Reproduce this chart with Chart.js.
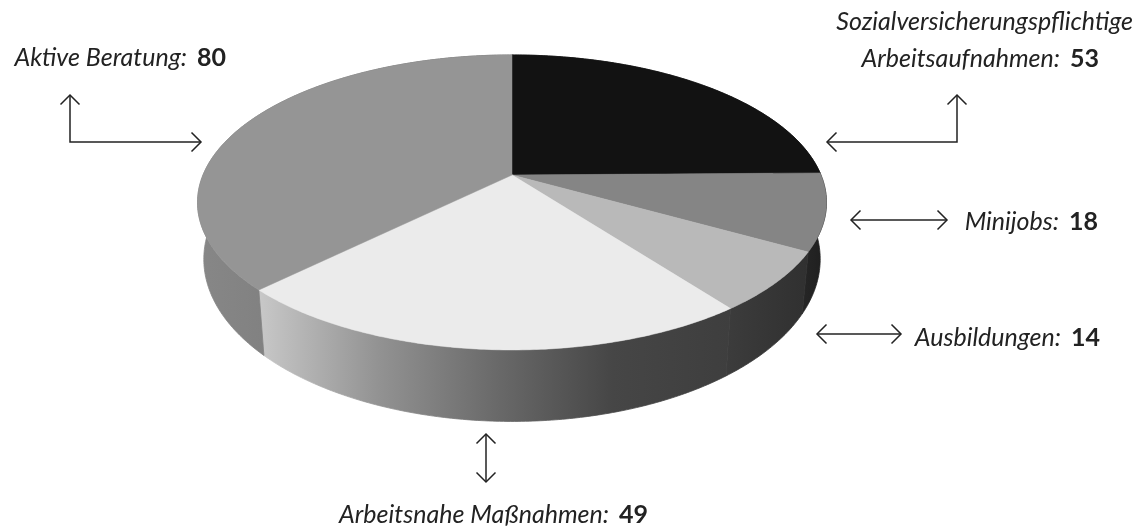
<!DOCTYPE html>
<html>
<head>
<meta charset="utf-8">
<style>
  html, body { margin: 0; padding: 0; background: #fff; }
  canvas { display: block; }
</style>
<script src="https://cdn.jsdelivr.net/npm/chart.js@4"></script>
</head>
<body>
<canvas id="pie" width="1141" height="526"></canvas>
<script>
const categories = ['Sozialversicherungspflichtige Arbeitsaufnahmen', 'Minijobs', 'Ausbildungen', 'Arbeitsnahe Maßnahmen', 'Aktive Beratung'];
const values = [53, 18, 14, 49, 80];
const topColors = ['#121212', '#858585', '#b9b9b9', '#ebebeb', '#959595'];
const wallColors = [
  ['#1c1c1c', '#1c1c1c'],
  ['#1e1e1e', '#262626'],
  ['#303030', '#3c3c3c'],
  ['#3e3e3e', '#464646', '#6a6a6a', '#939393', '#c8c8c8'],
  ['#6c6c6c', '#878787']
];

// the printed pie is a perspective view, so the top face is projected by hand
const view = { cx: 512, cy: 175, c: 309, a: 142.4, beta: 0.186 };
const base = { dy: 54, sx: 0.98, sy: 1.1 };
const nameFont = 'italic 400 25px Lato';
const valueFont = 'bold 25px Lato';

function project(angle) {
  const th = angle + Math.PI / 2;
  const X = Math.sin(th), Y = -Math.cos(th);
  const d = 1 - view.beta * Y;
  return { x: view.c * X / d, y: view.a * Y / d };
}

function sample(start, end) {
  const n = Math.max(2, Math.ceil((end - start) / 0.01));
  const pts = [];
  for (let i = 0; i <= n; i++) pts.push(project(start + (end - start) * i / n));
  return pts;
}

function drawWall(ctx, arc, i) {
  const pts = sample(arc.startAngle, arc.endAngle);
  const bottom = pts.map(p => ({ x: view.cx + p.x * base.sx, y: view.cy + base.dy + p.y * base.sy }));
  const top = pts.map(p => ({ x: view.cx + p.x, y: view.cy + p.y }));
  const xs = top.concat(bottom).map(p => p.x);
  const g = ctx.createLinearGradient(Math.max(...xs), 0, Math.min(...xs), 0);
  wallColors[i].forEach((c, k) => g.addColorStop(k / (wallColors[i].length - 1), c));
  ctx.beginPath();
  top.forEach((p, k) => k ? ctx.lineTo(p.x, p.y) : ctx.moveTo(p.x, p.y));
  bottom.reverse().forEach(p => ctx.lineTo(p.x, p.y));
  ctx.closePath();
  ctx.fillStyle = g;
  ctx.strokeStyle = g;
  ctx.lineWidth = 0.8;
  ctx.fill();
  ctx.stroke();
}

function drawTop(ctx, arc) {
  ctx.beginPath();
  ctx.moveTo(view.cx, view.cy);
  sample(arc.startAngle, arc.endAngle).forEach(p => ctx.lineTo(view.cx + p.x, view.cy + p.y));
  ctx.closePath();
  ctx.fillStyle = arc.options.backgroundColor;
  ctx.strokeStyle = arc.options.backgroundColor;
  ctx.lineWidth = 0.5;
  ctx.fill();
  ctx.stroke();
}

function head(ctx, x, y, dx, dy) {
  const s = 9.5;
  ctx.beginPath();
  ctx.moveTo(x - dx * s + dy * s, y - dy * s + dx * s);
  ctx.lineTo(x, y);
  ctx.lineTo(x - dx * s - dy * s, y - dy * s - dx * s);
  ctx.stroke();
}

function arrow(ctx, pts) {
  ctx.beginPath();
  pts.forEach((p, k) => k ? ctx.lineTo(p[0], p[1]) : ctx.moveTo(p[0], p[1]));
  ctx.stroke();
  const n = pts.length;
  const unit = (a, b) => {
    const l = Math.hypot(b[0] - a[0], b[1] - a[1]);
    return [(b[0] - a[0]) / l, (b[1] - a[1]) / l];
  };
  const u = unit(pts[n - 2], pts[n - 1]);
  head(ctx, pts[n - 1][0], pts[n - 1][1], u[0], u[1]);
  const v = unit(pts[1], pts[0]);
  head(ctx, pts[0][0], pts[0][1], v[0], v[1]);
}

// label: italic name followed by the bold number, right edge at x
function label(ctx, name, value, x, y) {
  ctx.textAlign = 'left';
  ctx.textBaseline = 'alphabetic';
  ctx.fillStyle = '#222';
  ctx.font = valueFont;
  const w = ctx.measureText(String(value)).width;
  ctx.fillText(String(value), x - w, y);
  ctx.font = nameFont;
  const t = name + ':';
  ctx.fillText(t, x - w - 10 - ctx.measureText(t).width, y);
}

const pie3d = {
  id: 'pie3d',
  beforeDatasetsDraw(chart) {
    const ctx = chart.ctx;
    const arcs = chart.getDatasetMeta(0).data;
    ctx.save();
    arcs.forEach((arc, i) => drawWall(ctx, arc, i));
    arcs.forEach(arc => drawTop(ctx, arc));
    ctx.restore();
    return false;
  },
  afterDraw(chart) {
    const ctx = chart.ctx;
    ctx.save();
    ctx.strokeStyle = '#222';
    ctx.lineWidth = 1.5;
    arrow(ctx, [[827, 142], [957, 142], [957, 95]]);
    arrow(ctx, [[851, 220], [947, 220]]);
    arrow(ctx, [[817, 334], [901, 334]]);
    arrow(ctx, [[486, 434], [486, 482]]);
    arrow(ctx, [[70, 95], [70, 142], [201, 142]]);

    ctx.font = nameFont;
    ctx.fillStyle = '#222';
    ctx.textAlign = 'right';
    ctx.fillText('Sozialversicherungspflichtige', 1133, 30);
    label(ctx, 'Arbeitsaufnahmen', values[0], 1099, 67);
    label(ctx, categories[1], values[1], 1098, 230);
    label(ctx, categories[2], values[2], 1100, 346);
    label(ctx, categories[3], values[3], 648, 523);
    label(ctx, categories[4], values[4], 226, 66);
    ctx.restore();
  }
};

new Chart(document.getElementById('pie').getContext('2d'), {
  type: 'pie',
  data: {
    labels: categories,
    datasets: [{ data: values, backgroundColor: topColors, borderWidth: 0 }]
  },
  options: {
    responsive: false,
    animation: false,
    plugins: { legend: { display: false }, tooltip: { enabled: false } }
  },
  plugins: [pie3d]
});
</script>
</body>
</html>
